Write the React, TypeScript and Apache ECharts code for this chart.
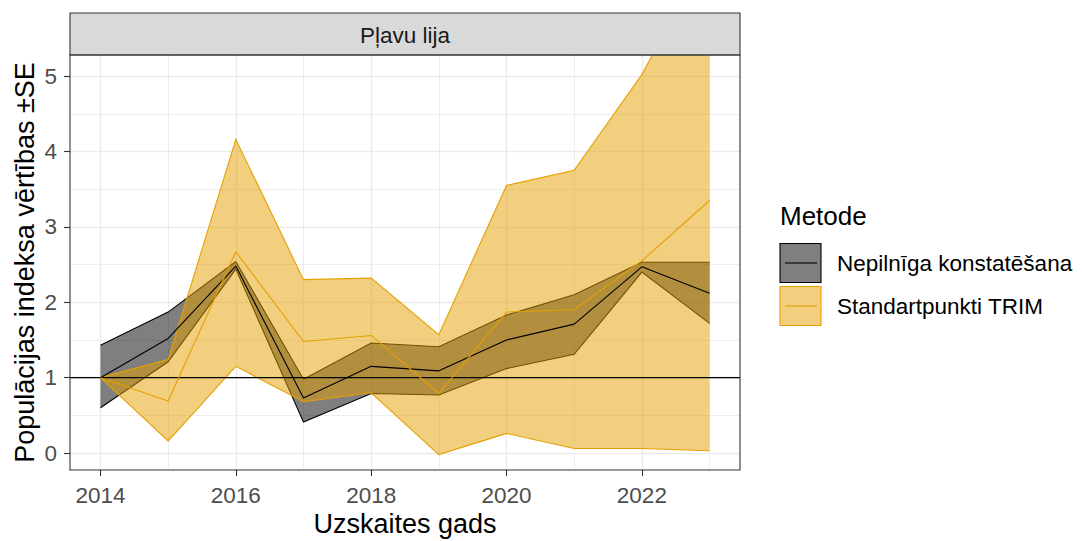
import React, { useEffect, useRef } from "react";
import * as echarts from "echarts";

const years = [2014, 2015, 2016, 2017, 2018, 2019, 2020, 2021, 2022, 2023];
const greyLine = [1.0, 1.52, 2.48, 0.73, 1.15, 1.09, 1.5, 1.71, 2.47, 2.12];
const greyLower = [0.6, 1.21, 2.44, 0.41, 0.79, 0.77, 1.12, 1.31, 2.4, 1.72];
const greyUpper = [1.43, 1.87, 2.54, 0.98, 1.46, 1.41, 1.83, 2.1, 2.53, 2.53];
const trimLine = [1.0, 0.69, 2.67, 1.48, 1.56, 0.79, 1.87, 1.9, 2.55, 3.35];
const trimLower = [1.0, 0.16, 1.15, 0.68, 0.8, -0.02, 0.26, 0.06, 0.06, 0.03];
const trimUpper = [1.0, 1.24, 4.16, 2.3, 2.32, 1.57, 3.55, 3.75, 5.02, 6.7];
const xTicks = [2014, 2016, 2018, 2020, 2022];
const yTicks = [0, 1, 2, 3, 4, 5];
const refValue = 1;
const xMin = 2013.55;
const xMax = 2023.45;
const yMin = -0.225;
const yMax = 5.28;
const facetLabel = "Pļavu lija";
const legendTitle = "Metode";
const seriesNames = ["Nepilnīga konstatēšana", "Standartpunkti TRIM"];
const xTitle = "Uzskaites gads";
const yTitle = "Populācijas indeksa vērtības ±SE";

const FONT = "'Liberation Sans', Arial, sans-serif";
const GREY_STROKE = "#000000";
const TRIM_STROKE = "#E69F00";

function band(name: string, lower: number[], upper: number[], stroke: string) {
  return {
    type: "custom",
    name,
    clip: true,
    silent: true,
    data: years.map((y, i) => [y, lower[i], upper[i]]),
    encode: { x: 0, y: [1, 2] },
    renderItem: (params: any, api: any) => {
      if (params.dataIndex !== 0) return null;
      const up = years.map((y, i) => api.coord([y, upper[i]]));
      const lo = years.map((y, i) => api.coord([y, lower[i]]));
      const cs = params.coordSys;
      return {
        type: "group",
        clipPath: { type: "rect", shape: { x: cs.x, y: cs.y, width: cs.width, height: cs.height } },
        children: [
          {
            type: "polygon",
            shape: { points: up.concat(lo.slice().reverse()) },
            style: { fill: stroke, opacity: 0.5, stroke: "none" },
          },
          {
            type: "polyline",
            shape: { points: up },
            style: { fill: "none", stroke, lineWidth: 1.1 },
          },
          {
            type: "polyline",
            shape: { points: lo },
            style: { fill: "none", stroke, lineWidth: 1.1 },
          },
        ],
      };
    },
  };
}

function midLine(name: string, vals: number[], stroke: string) {
  return {
    type: "line",
    name,
    data: years.map((y, i) => [y, vals[i]]),
    symbol: "none",
    showSymbol: false,
    lineStyle: { color: stroke, width: 1.1 },
    silent: true,
  };
}

export default function App() {
  const ref = useRef<HTMLDivElement>(null);
  useEffect(() => {
    if (!ref.current) return;
    const chart = echarts.init(ref.current, undefined, { renderer: "svg" });
    const axisCommon = {
      axisLine: { show: false, onZero: false },
      splitLine: { show: true, lineStyle: { color: "#EBEBEB", width: 1.4 } },
      minorTick: { show: false, splitNumber: 2 },
      minorSplitLine: { show: true, lineStyle: { color: "#EDEDED", width: 1.0 } },
    };
    const option: any = {
      animation: false,
      backgroundColor: "#ffffff",
      textStyle: { fontFamily: FONT },
      grid: { left: 70, top: 55, width: 670, height: 415, show: false, containLabel: false, outerBoundsMode: "none" },
      xAxis: {
        type: "value",
        min: xMin,
        max: xMax,
        splitNumber: 5,
        ...axisCommon,
        axisTick: { show: true, length: 6, lineStyle: { color: "#333333", width: 1.1 }, customValues: xTicks },
        axisLabel: {
          customValues: xTicks,
          formatter: (v: number) => (Number.isInteger(v) ? String(v) : ""),
          color: "#4D4D4D",
          fontSize: 22.5,
          fontFamily: FONT,
          margin: 14,
        },
      },
      yAxis: {
        type: "value",
        min: yMin,
        max: yMax,
        splitNumber: 5,
        ...axisCommon,
        axisTick: { show: true, length: 6, lineStyle: { color: "#333333", width: 1.1 }, customValues: yTicks },
        axisLabel: {
          customValues: yTicks,
          formatter: (v: number) => (Number.isInteger(v) ? String(v) : ""),
          color: "#4D4D4D",
          fontSize: 22.5,
          fontFamily: FONT,
          margin: 13,
        },
      },
      series: [
        {
          type: "line",
          name: "ref",
          data: [
            [xMin, refValue],
            [xMax, refValue],
          ],
          symbol: "none",
          showSymbol: false,
          lineStyle: { color: "#000000", width: 1.1 },
          silent: true,
        },
        band(seriesNames[0], greyLower, greyUpper, GREY_STROKE),
        midLine(seriesNames[0], greyLine, GREY_STROKE),
        band(seriesNames[1], trimLower, trimUpper, TRIM_STROKE),
        midLine(seriesNames[1], trimLine, TRIM_STROKE),
      ],
      graphic: [
        {
          type: "rect",
          shape: { x: 70, y: 13, width: 670, height: 42 },
          style: { fill: "#D9D9D9", stroke: "#333333", lineWidth: 1.1 },
          z: 100,
        },
        {
          type: "text",
          x: 405,
          y: 35.5,
          style: { text: facetLabel, fill: "#1A1A1A", fontSize: 22.5, fontFamily: FONT, align: "center", verticalAlign: "middle" },
          z: 101,
        },
        {
          type: "rect",
          shape: { x: 70, y: 55, width: 670, height: 415 },
          style: { fill: "none", stroke: "#333333", lineWidth: 1.1 },
          z: 100,
        },
        {
          type: "text",
          x: 405,
          y: 523.5,
          style: { text: xTitle, fill: "#000000", fontSize: 27, fontFamily: FONT, align: "center", verticalAlign: "middle" },
          z: 101,
        },
        {
          type: "text",
          x: 24.6,
          y: 262.5,
          rotation: Math.PI / 2,
          style: { text: yTitle, fill: "#000000", fontSize: 27, fontFamily: FONT, align: "center", verticalAlign: "middle" },
          z: 101,
        },
        {
          type: "text",
          x: 780,
          y: 216,
          style: { text: legendTitle, fill: "#000000", fontSize: 26, fontFamily: FONT, align: "left", verticalAlign: "middle" },
          z: 101,
        },
        {
          type: "rect",
          shape: { x: 780, y: 243.5, width: 41, height: 39 },
          style: { fill: "rgba(0,0,0,0.5)", stroke: GREY_STROKE, lineWidth: 1.1 },
          z: 101,
        },
        {
          type: "line",
          shape: { x1: 785, y1: 263, x2: 817, y2: 263 },
          style: { stroke: GREY_STROKE, lineWidth: 1.1 },
          z: 102,
        },
        {
          type: "text",
          x: 837,
          y: 263.5,
          style: { text: seriesNames[0], fill: "#000000", fontSize: 22.5, fontFamily: FONT, align: "left", verticalAlign: "middle" },
          z: 101,
        },
        {
          type: "rect",
          shape: { x: 780, y: 286.5, width: 41, height: 39 },
          style: { fill: "rgba(230,159,0,0.5)", stroke: TRIM_STROKE, lineWidth: 1.1 },
          z: 101,
        },
        {
          type: "line",
          shape: { x1: 785, y1: 306, x2: 817, y2: 306 },
          style: { stroke: TRIM_STROKE, lineWidth: 1.1 },
          z: 102,
        },
        {
          type: "text",
          x: 837,
          y: 306.5,
          style: { text: seriesNames[1], fill: "#000000", fontSize: 22.5, fontFamily: FONT, align: "left", verticalAlign: "middle" },
          z: 101,
        },
      ],
    };
    chart.setOption(option);
    return () => chart.dispose();
  }, []);
  return (
    <div
      ref={ref}
      style={{ position: "fixed", left: 0, top: 0, width: 1082, height: 541, background: "#fff" }}
    />
  );
}
